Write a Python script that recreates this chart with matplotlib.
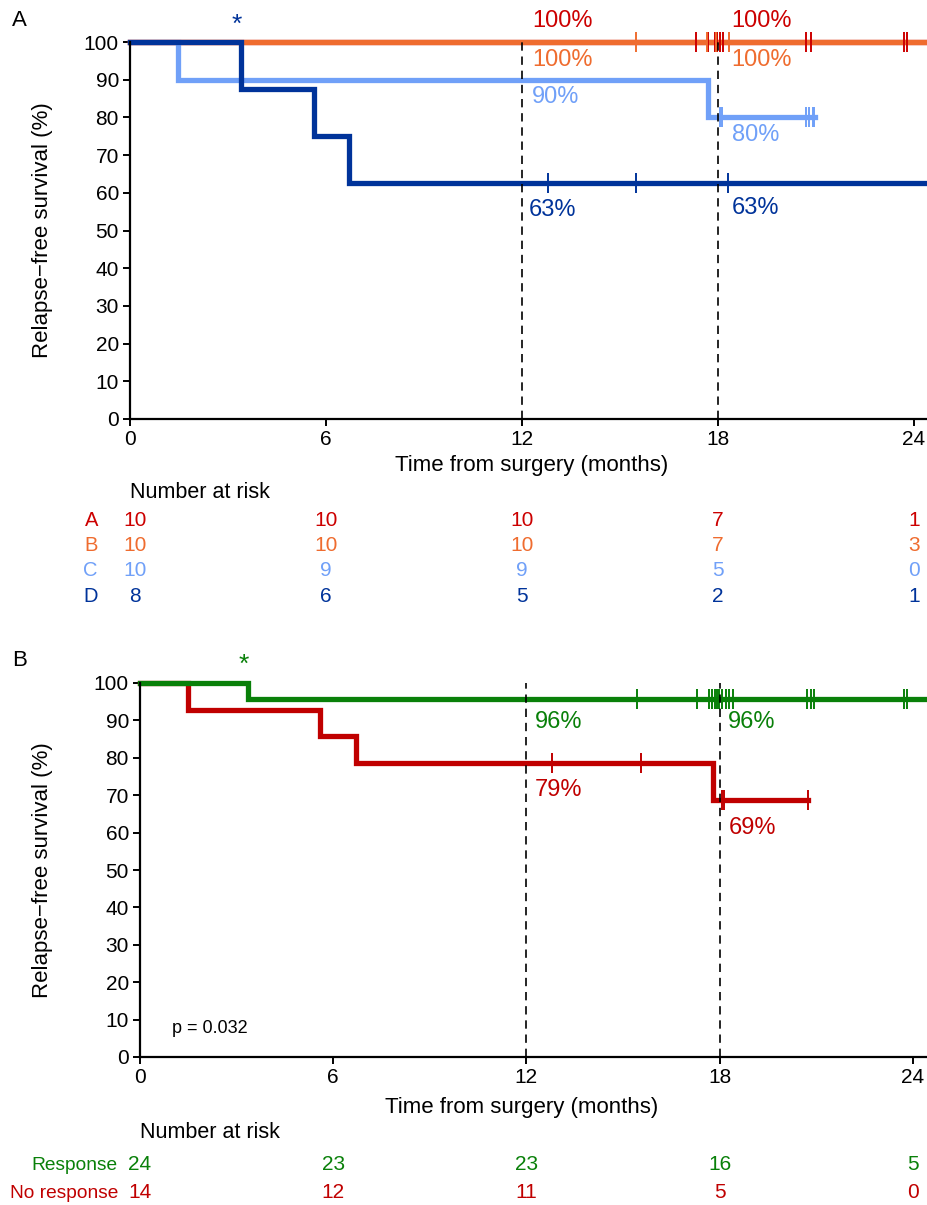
import matplotlib
matplotlib.use("Agg")
import matplotlib.pyplot as plt
import matplotlib.transforms as mtransforms

plt.rcParams['font.family'] = ['Liberation Sans', 'DejaVu Sans']

# ---------------- data: panel A ----------------
A_times = [0]
A_surv = [100]
A_censor = [17.32, 17.7, 17.9, 17.98, 18.05, 18.15, 20.7, 20.84, 23.7, 23.8]

B_times = [0]
B_surv = [100]
B_censor = [15.5, 17.65, 17.95, 18.35]

C_times = [0, 1.47, 17.7]
C_surv = [100, 90, 80]
C_censor = [18.05, 18.12, 20.7, 20.8, 20.9, 20.95]
C_end = 20.97

D_times = [0, 3.4, 5.63, 6.7]
D_surv = [100, 87.5, 75, 62.5]
D_censor = [12.8, 15.5, 18.3]

risk_times = [0, 6, 12, 18, 24]
risk_A = [10, 10, 10, 7, 1]
risk_B = [10, 10, 10, 7, 3]
risk_C = [10, 9, 9, 5, 0]
risk_D = [8, 6, 5, 2, 1]
groups_top = ['A', 'B', 'C', 'D']

# ---------------- data: panel B ----------------
R_times = [0, 3.35]
R_surv = [100, 95.8]
R_censor = [15.44, 17.3, 17.67, 17.76, 17.85, 17.92, 17.98, 18.07, 18.2, 18.3, 18.4,
            20.7, 20.83, 20.93, 23.73, 23.82]

N_times = [0, 1.49, 5.59, 6.7, 17.8]
N_surv = [100, 92.9, 85.7, 78.6, 68.75]
N_censor = [12.8, 15.55, 18.07, 18.14, 20.75]
N_end = 20.75

risk_R = [24, 23, 23, 16, 5]
risk_N = [14, 12, 11, 5, 0]
groups_bot = ['Response', 'No response']

p_text = 'p = 0.032'

# ---------------- colors ----------------
cA = '#cc0000'
cB = '#ef6c2f'
cC = '#70a0f8'
cD = '#00339a'
cR = '#098009'
cN = '#c00000'

W, H = 928, 1205
fig = plt.figure(figsize=(W / 100, H / 100), dpi=100)

def px_axes(left, right, top, bottom):
    return fig.add_axes([left / W, 1 - bottom / H, (right - left) / W, (bottom - top) / H])

FS = 14.5      # ticks / risk numbers
FSL = 16       # axis labels
FSP = 17       # percentage labels
LW = 3.8

def style_axes(ax, xmax):
    ax.set_xlim(0, xmax)
    ax.set_ylim(0, 100)
    for s in ['top', 'right']:
        ax.spines[s].set_visible(False)
    for s in ['left', 'bottom']:
        ax.spines[s].set_linewidth(1.6)
        ax.spines[s].set_zorder(20)
    ax.set_xticks([0, 6, 12, 18, 24])
    ax.set_yticks(range(0, 101, 10))
    ax.tick_params(direction='out', length=5, width=1.4, labelsize=FS + 0.5, pad=3)
    for y in (12, 18):
        ax.plot([y, y], [0, 100], color='black', lw=1.2, ls=(0, (5, 3.5)), zorder=15, clip_on=False)

def km(ax, times, surv, end, color, z):
    xs = list(times) + [end]
    ys = list(surv) + [surv[-1]]
    ax.step(xs, ys, where='post', color=color, lw=LW, zorder=z, clip_on=False,
            solid_joinstyle='miter')

def survival_at(times, surv, t):
    val = surv[0]
    for ti, si in zip(times, surv):
        if ti <= t:
            val = si
    return val

def censor(ax, times, surv, cens, color):
    ys = [survival_at(times, surv, t) for t in cens]
    ax.plot(cens, ys, ls='none', marker='|', ms=14, mew=1.4, color=color, zorder=12, clip_on=False)

# ---------------- panel A ----------------
xmax_top = 24.43
ax1 = px_axes(130, 928, 42, 419)
style_axes(ax1, xmax_top)
km(ax1, A_times, A_surv, xmax_top, cA, 5)
km(ax1, B_times, B_surv, xmax_top, cB, 6)
km(ax1, C_times, C_surv, C_end, cC, 7)
km(ax1, D_times, D_surv, xmax_top, cD, 8)
censor(ax1, A_times, A_surv, A_censor, cA)
censor(ax1, B_times, B_surv, B_censor, cB)
censor(ax1, C_times, C_surv, C_censor, cC)
censor(ax1, D_times, D_surv, D_censor, cD)

ax1.text(12.3, 105.5, '100%', color=cA, fontsize=FSP, va='center', ha='left')
ax1.text(12.3, 95.2, '100%', color=cB, fontsize=FSP, va='center', ha='left')
ax1.text(12.3, 85.3, '90%', color=cC, fontsize=FSP, va='center', ha='left')
ax1.text(12.22, 55.4, '63%', color=cD, fontsize=FSP, va='center', ha='left')
ax1.text(18.42, 105.5, '100%', color=cA, fontsize=FSP, va='center', ha='left')
ax1.text(18.42, 95.2, '100%', color=cB, fontsize=FSP, va='center', ha='left')
ax1.text(18.42, 75.3, '80%', color=cC, fontsize=FSP, va='center', ha='left')
ax1.text(18.42, 56.0, '63%', color=cD, fontsize=FSP, va='center', ha='left')
ax1.text(3.26, 104.5, '*', color=cD, fontsize=19, va='center', ha='center')

fig.text(12 / W, 1 - 20 / H, 'A', fontsize=FSL, va='center', ha='left')
fig.text(43 / W, 1 - 230 / H, 'Relapse\u2212free survival (%)', fontsize=FSL, rotation=90,
         va='center', ha='center')
fig.text(532 / W, 1 - 466 / H, 'Time from surgery (months)', fontsize=FSL, va='center', ha='center')
fig.text(130 / W, 1 - 492 / H, 'Number at risk', fontsize=15.5, va='center', ha='left')

trans1 = mtransforms.blended_transform_factory(ax1.transData, fig.transFigure)
rows_top = [risk_A, risk_B, risk_C, risk_D]
cols_top = [cA, cB, cC, cD]
ys_top = [521, 546, 571, 596]
for g, row, col, yp in zip(groups_top, rows_top, cols_top, ys_top):
    fig.text(98 / W, 1 - yp / H, g, color=col, fontsize=FS, va='center', ha='right')
    for k, (t, n) in enumerate(zip(risk_times, row)):
        xx = t + (0.15 if k == 0 else 0)
        fig.text(xx, 1 - yp / H, str(n), color=col, fontsize=FS + 0.5, va='center', ha='center',
                 transform=trans1)

# ---------------- panel B ----------------
xmax_bot = 24.47
ax2 = px_axes(140, 928, 683, 1057)
style_axes(ax2, xmax_bot)
km(ax2, N_times, N_surv, N_end, cN, 5)
km(ax2, R_times, R_surv, xmax_bot, cR, 6)
censor(ax2, N_times, N_surv, N_censor, cN)
censor(ax2, R_times, R_surv, R_censor, cR)

ax2.text(12.25, 89.6, '96%', color=cR, fontsize=FSP, va='center', ha='left')
ax2.text(18.27, 89.6, '96%', color=cR, fontsize=FSP, va='center', ha='left')
ax2.text(12.25, 71.4, '79%', color=cN, fontsize=FSP, va='center', ha='left')
ax2.text(18.28, 61.2, '69%', color=cN, fontsize=FSP, va='center', ha='left')
ax2.text(3.23, 104.8, '*', color=cR, fontsize=19, va='center', ha='center')
ax2.text(1.0, 7.75, p_text, fontsize=13, va='center', ha='left')

fig.text(12 / W, 1 - 660 / H, 'B', fontsize=FSL, va='center', ha='left')
fig.text(43 / W, 1 - 870 / H, 'Relapse\u2212free survival (%)', fontsize=FSL, rotation=90,
         va='center', ha='center')
fig.text(522 / W, 1 - 1108 / H, 'Time from surgery (months)', fontsize=FSL, va='center', ha='center')
fig.text(140 / W, 1 - 1133 / H, 'Number at risk', fontsize=15.5, va='center', ha='left')

trans2 = mtransforms.blended_transform_factory(ax2.transData, fig.transFigure)
rows_bot = [risk_R, risk_N]
cols_bot = [cR, cN]
ys_bot = [1165, 1193]
for g, row, col, yp in zip(groups_bot, rows_bot, cols_bot, ys_bot):
    fig.text(118 / W, 1 - yp / H, g, color=col, fontsize=13.8, va='center', ha='right')
    for k, (t, n) in enumerate(zip(risk_times, row)):
        fig.text(t, 1 - yp / H, str(n), color=col, fontsize=FS + 0.5, va='center', ha='center',
                 transform=trans2)

fig.savefig('out.png', dpi=100)
